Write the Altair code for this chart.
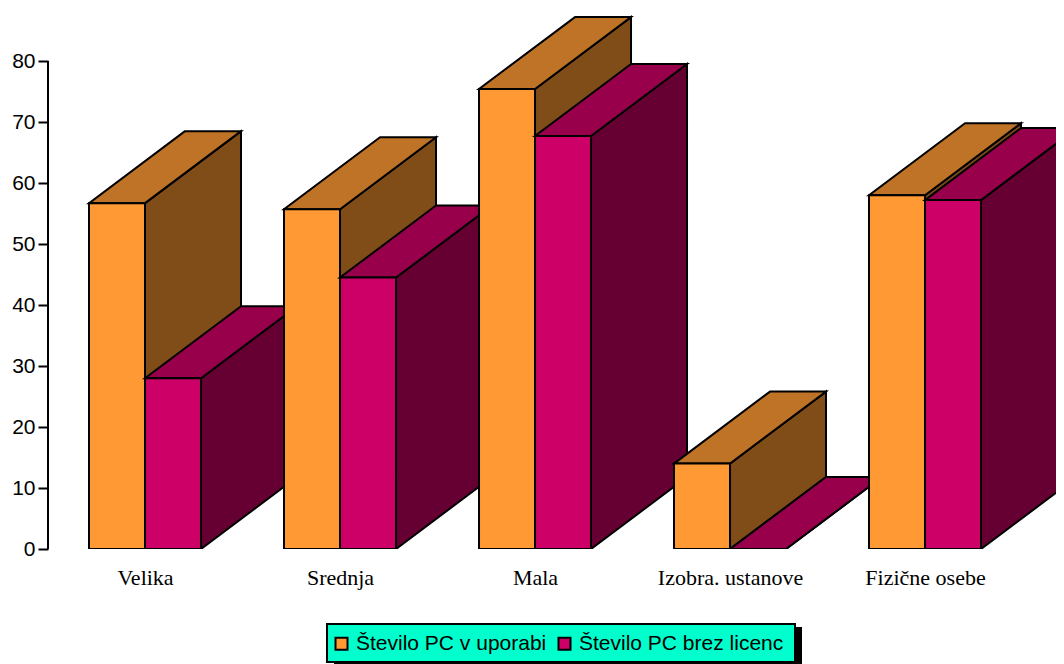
import altair as alt
import pandas as pd

categories = ["Velika", "Srednja", "Mala", "Izobra. ustanove", "Fizične osebe"]
series_names = ["Število PC v uporabi", "Število PC brez licenc"]
in_use = [56.7, 55.7, 75.4, 14.0, 58.0]
unlicensed = [28.0, 44.5, 67.7, 0.0, 57.2]

front_colors = ["#FF9933", "#CC0066"]
top_colors = ["#BF7326", "#99004C"]
side_colors = ["#804D19", "#660033"]

BAR_W = 0.2872      # bar width, in category slots
LEFT = 0.2103       # first bar's start inside a slot
DEPTH_X = 0.4923    # 3D depth, in category slots
DEPTH_Y = 11.8      # 3D depth, in value units
X_MAX = 1008 / 195
Y_MAX = 541 / 6.1

xs = alt.Scale(domain=[0, X_MAX], nice=False, zero=False)
ys = alt.Scale(domain=[0, Y_MAX], nice=False, zero=False)
x_axis = alt.Axis(
    values=[i + LEFT + BAR_W for i in range(5)],
    labelExpr="{labels}[round(datum.value - {off})]".format(labels=str(categories), off=LEFT + BAR_W),
    domain=False, ticks=False, grid=False, title=None,
    labelFont="Liberation Serif", labelFontSize=22, labelColor="black",
    labelPadding=18, labelAngle=0, labelOverlap=False, labelFlush=False,
)
y_axis = alt.Axis(
    values=list(range(0, 81, 10)), domain=False, grid=False, title=None,
    tickSize=10, tickWidth=2, tickColor="black",
    labelFont="Liberation Sans", labelFontSize=21, labelColor="black", labelPadding=3,
)

layers = []

# legend shadow and legend box
layers.append(
    alt.Chart(pd.DataFrame({"a": [0]})).mark_rect(color="black", clip=False).encode(
        x=alt.value(286), x2=alt.value(754), y=alt.value(619), y2=alt.value(656)
    )
)
layers.append(
    alt.Chart(pd.DataFrame({"a": [0]})).mark_rect(
        fill="#00FFCC", stroke="black", strokeWidth=2, clip=False
    ).encode(
        x=alt.value(279), x2=alt.value(747), y=alt.value(616), y2=alt.value(654)
    )
)

# y axis line, from 0 to 80
layers.append(
    alt.Chart(pd.DataFrame({"lo": [0], "hi": [80]})).mark_rule(color="black", strokeWidth=2).encode(
        x=alt.value(0),
        y=alt.Y("lo:Q", scale=ys, axis=y_axis),
        y2="hi:Q",
    )
)

for c, cat in enumerate(categories):
    for s, vals in enumerate([in_use, unlicensed]):
        v = vals[c]
        xl = c + LEFT + s * BAR_W
        xr = xl + BAR_W
        side = pd.DataFrame({
            "x": [xr, xr + DEPTH_X],
            "lo": [0, DEPTH_Y],
            "hi": [v, v + DEPTH_Y],
        })
        top = pd.DataFrame({
            "a": [xl, xl + DEPTH_X],
            "b": [xr, xr + DEPTH_X],
            "y": [v, v + DEPTH_Y],
        })
        front = pd.DataFrame({"a": [xl], "b": [xr], "y": [v], "series": [series_names[s]]})
        layers.append(
            alt.Chart(side).mark_area(
                orient="vertical", fill=side_colors[s], stroke="black", strokeWidth=2,
                strokeJoin="miter", clip=True, opacity=1
            ).encode(
                x=alt.X("x:Q", scale=xs, axis=x_axis),
                y=alt.Y("lo:Q", scale=ys, axis=y_axis),
                y2="hi:Q",
            )
        )
        layers.append(
            alt.Chart(top).mark_area(
                orient="horizontal", fill=top_colors[s], stroke="black", strokeWidth=2,
                strokeJoin="miter", clip=True, opacity=1
            ).encode(
                x=alt.X("a:Q", scale=xs, axis=x_axis),
                x2="b:Q",
                y=alt.Y("y:Q", scale=ys, axis=y_axis),
            )
        )
        layers.append(
            alt.Chart(front).mark_rect(stroke="black", strokeWidth=2, clip=True, opacity=1).encode(
                x=alt.X("a:Q", scale=xs, axis=x_axis),
                x2="b:Q",
                y=alt.Y("y:Q", scale=ys, axis=y_axis),
                y2=alt.datum(0),
                color=alt.Color(
                    "series:N",
                    scale=alt.Scale(domain=series_names, range=front_colors),
                    legend=alt.Legend(
                        title=None, orient="none", legendX=283, legendY=625,
                        direction="horizontal", columns=2, columnPadding=7,
                        padding=0, symbolType="square", symbolSize=144,
                        symbolStrokeColor="black", symbolStrokeWidth=2, symbolOpacity=1,
                        labelFont="Liberation Sans", labelFontSize=21, labelColor="black",
                        labelLimit=400, labelOffset=4, zindex=1,
                    ),
                ),
            )
        )

chart = alt.layer(*layers).resolve_scale(x="shared", y="shared").properties(
    width=1008, height=541,
    autosize=alt.AutoSizeParams(type="none"),
    padding={"left": 40, "top": 0, "right": 0, "bottom": 115},
    background="white",
).configure_view(stroke=None)

chart.save("out.html", embed_options={"renderer": "svg", "actions": False})
